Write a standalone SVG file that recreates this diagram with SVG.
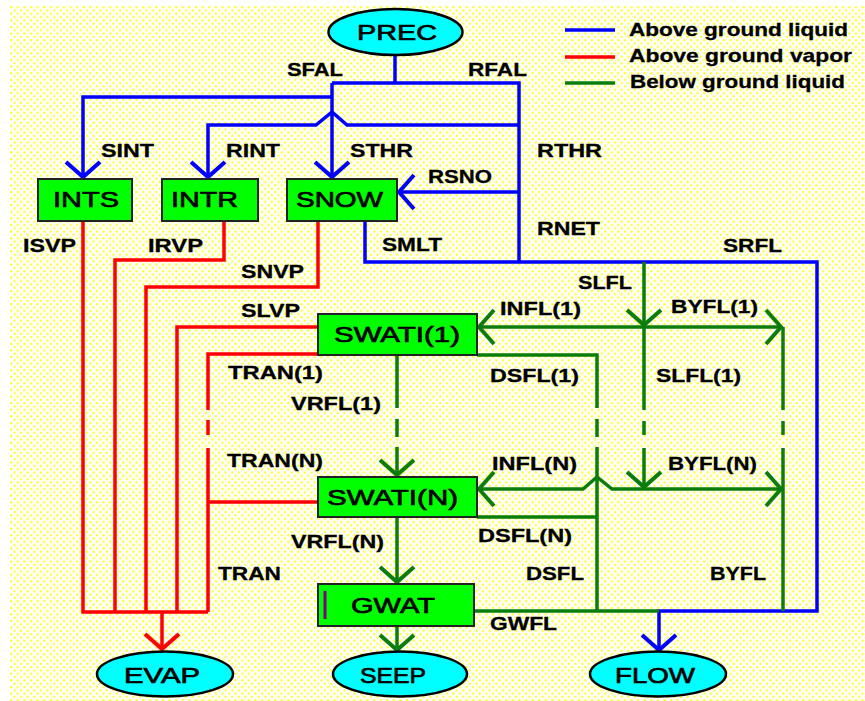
<svg xmlns="http://www.w3.org/2000/svg" width="865" height="701" viewBox="0 0 865 701">
<defs>
<pattern id="dots" patternUnits="userSpaceOnUse" width="6.6" height="6.6" x="10" y="6">
<circle cx="1.2" cy="1.2" r="1.2" fill="#ffff20"/>
<circle cx="4.5" cy="4.5" r="1.2" fill="#ffff20"/>
</pattern>
<marker id="ab" markerUnits="userSpaceOnUse" markerWidth="40" markerHeight="40" viewBox="-20 -20 40 40" refX="0" refY="0" orient="auto" overflow="visible"><path d="M-15,-17 L0,0 L-15,17" fill="none" stroke="#0000ff" stroke-width="4"/></marker>
<marker id="ar" markerUnits="userSpaceOnUse" markerWidth="40" markerHeight="40" viewBox="-20 -20 40 40" refX="0" refY="0" orient="auto" overflow="visible"><path d="M-15,-17 L0,0 L-15,17" fill="none" stroke="#ff0000" stroke-width="4"/></marker>
<marker id="ag" markerUnits="userSpaceOnUse" markerWidth="40" markerHeight="40" viewBox="-20 -20 40 40" refX="0" refY="0" orient="auto" overflow="visible"><path d="M-15,-17 L0,0 L-15,17" fill="none" stroke="#0a7d0a" stroke-width="4"/></marker>
</defs>
<style>
.b{fill:none;stroke:#0000ff;stroke-width:3.5}
.r{fill:none;stroke:#ff0000;stroke-width:3.5}
.g{fill:none;stroke:#0a7d0a;stroke-width:3.5}
.box{fill:#00ff00;stroke:#222;stroke-width:2}
.ell{fill:#00ffff;stroke:#000;stroke-width:2.5}
.lbl{font-family:"Liberation Sans",Arial,sans-serif;font-weight:bold;font-size:19px;fill:#000;stroke:#000;stroke-width:0.3}
.nl{font-family:"Liberation Sans",Arial,sans-serif;font-size:22px;fill:#000;stroke:#000;stroke-width:0.7}
</style>
<rect x="0" y="0" width="865" height="701" fill="#ffffff"/>
<rect x="10" y="6" width="855" height="695" fill="url(#dots)"/>

<g id="connectors">
<path class="b" d="M395,55 V83"/>
<path class="b" d="M332,83 H519 V262"/>
<path class="b" d="M332,83 V177" marker-end="url(#ab)"/>
<path class="b" d="M332,97 H83 V177" marker-end="url(#ab)"/>
<path class="b" d="M519,125 H347 L332,112 L316,125 H208 V177" marker-end="url(#ab)"/>
<path class="b" d="M519,192 H399" marker-end="url(#ab)"/>
<path class="b" d="M365,221 V262 H817 V611 H659 V650" marker-end="url(#ab)"/>
<path class="g" d="M644,262 V325" marker-end="url(#ag)"/>
<path class="g" d="M644,327 V410 M644,421 V435"/>
<path class="g" d="M644,448 V487" marker-end="url(#ag)"/>
<path class="g" d="M644,327 H479" marker-end="url(#ag)"/>
<path class="g" d="M644,327 H781" marker-end="url(#ag)"/>
<path class="g" d="M783,327 V410 M783,421 V435 M783,448 V611"/>
<path class="g" d="M477,355 H597 V408 M597,419 V437 M597,447 V611"/>
<path class="g" d="M644,489 H612 L597,477 L583,489 H479" marker-end="url(#ag)"/>
<path class="g" d="M644,489 H781" marker-end="url(#ag)"/>
<path class="g" d="M397,355 V408 M397,419 V437"/>
<path class="g" d="M397,447 V475" marker-end="url(#ag)"/>
<path class="g" d="M477,517 H597"/>
<path class="g" d="M397,517 V582" marker-end="url(#ag)"/>
<path class="g" d="M397,626 V650" marker-end="url(#ag)"/>
<path class="g" d="M474,611 H659"/>
<path class="r" d="M83,221 V612 H208"/>
<path class="r" d="M224,221 V260 H115 V612"/>
<path class="r" d="M318,221 V287 H146 V612"/>
<path class="r" d="M318,327 H177 V612"/>
<path class="r" d="M318,354 H208 V410 M208,420 V435 M208,448 V612"/>
<path class="r" d="M318,502 H208"/>
<path class="r" d="M162,612 V649" marker-end="url(#ar)"/>
<g class="lbl">
<text x="287" y="76" textLength="56" lengthAdjust="spacingAndGlyphs">SFAL</text>
<text x="468" y="76" textLength="59" lengthAdjust="spacingAndGlyphs">RFAL</text>
<text x="101" y="157" textLength="53" lengthAdjust="spacingAndGlyphs">SINT</text>
<text x="226" y="157" textLength="54" lengthAdjust="spacingAndGlyphs">RINT</text>
<text x="350" y="157" textLength="63" lengthAdjust="spacingAndGlyphs">STHR</text>
<text x="537" y="157" textLength="65" lengthAdjust="spacingAndGlyphs">RTHR</text>
<text x="428" y="183" textLength="64" lengthAdjust="spacingAndGlyphs">RSNO</text>
<text x="537" y="235" textLength="63" lengthAdjust="spacingAndGlyphs">RNET</text>
<text x="382" y="251" textLength="60" lengthAdjust="spacingAndGlyphs">SMLT</text>
<text x="723" y="252" textLength="59" lengthAdjust="spacingAndGlyphs">SRFL</text>
<text x="23" y="252" textLength="53" lengthAdjust="spacingAndGlyphs">ISVP</text>
<text x="148" y="252" textLength="55" lengthAdjust="spacingAndGlyphs">IRVP</text>
<text x="241" y="278" textLength="63" lengthAdjust="spacingAndGlyphs">SNVP</text>
<text x="241" y="317" textLength="59" lengthAdjust="spacingAndGlyphs">SLVP</text>
<text x="578" y="289" textLength="54" lengthAdjust="spacingAndGlyphs">SLFL</text>
<text x="500" y="315" textLength="81" lengthAdjust="spacingAndGlyphs">INFL(1)</text>
<text x="671" y="313" textLength="87" lengthAdjust="spacingAndGlyphs">BYFL(1)</text>
<text x="228" y="379" textLength="95" lengthAdjust="spacingAndGlyphs">TRAN(1)</text>
<text x="291" y="410" textLength="90" lengthAdjust="spacingAndGlyphs">VRFL(1)</text>
<text x="490" y="382" textLength="89" lengthAdjust="spacingAndGlyphs">DSFL(1)</text>
<text x="656" y="382" textLength="85" lengthAdjust="spacingAndGlyphs">SLFL(1)</text>
<text x="227" y="467" textLength="96" lengthAdjust="spacingAndGlyphs">TRAN(N)</text>
<text x="492" y="470" textLength="85" lengthAdjust="spacingAndGlyphs">INFL(N)</text>
<text x="668" y="470" textLength="89" lengthAdjust="spacingAndGlyphs">BYFL(N)</text>
<text x="291" y="548" textLength="93" lengthAdjust="spacingAndGlyphs">VRFL(N)</text>
<text x="478" y="542" textLength="94" lengthAdjust="spacingAndGlyphs">DSFL(N)</text>
<text x="218" y="580" textLength="63" lengthAdjust="spacingAndGlyphs">TRAN</text>
<text x="526" y="580" textLength="58" lengthAdjust="spacingAndGlyphs">DSFL</text>
<text x="710" y="580" textLength="56" lengthAdjust="spacingAndGlyphs">BYFL</text>
<text x="490" y="630" textLength="67" lengthAdjust="spacingAndGlyphs">GWFL</text>
</g>
</g>

<g id="legend">
<line x1="565" y1="30" x2="615" y2="30" stroke="#0000ff" stroke-width="3.5"/>
<line x1="565" y1="57" x2="615" y2="57" stroke="#ff0000" stroke-width="3.5"/>
<line x1="565" y1="83" x2="615" y2="83" stroke="#0a7d0a" stroke-width="3.5"/>
<g class="lbl">
<text x="629" y="36" textLength="219" lengthAdjust="spacingAndGlyphs">Above ground liquid</text>
<text x="629" y="62" textLength="223" lengthAdjust="spacingAndGlyphs">Above ground vapor</text>
<text x="630" y="88" textLength="215" lengthAdjust="spacingAndGlyphs">Below ground liquid</text>
</g>
</g>

<g id="PREC"><ellipse class="ell" cx="395.5" cy="32" rx="67" ry="23"/><text class="nl" x="357" y="40" textLength="80" lengthAdjust="spacingAndGlyphs">PREC</text></g>
<g id="INTS"><rect class="box" x="38" y="179" width="94" height="42"/><text class="nl" x="53" y="207" textLength="66" lengthAdjust="spacingAndGlyphs">INTS</text></g>
<g id="INTR"><rect class="box" x="162" y="179" width="96" height="42"/><text class="nl" x="171" y="207" textLength="67" lengthAdjust="spacingAndGlyphs">INTR</text></g>
<g id="SNOW"><rect class="box" x="287" y="179" width="110" height="42"/><text class="nl" x="296" y="207" textLength="87" lengthAdjust="spacingAndGlyphs">SNOW</text></g>
<g id="SWATI1"><rect class="box" x="318" y="314" width="159" height="41"/><text class="nl" x="334" y="342" textLength="126" lengthAdjust="spacingAndGlyphs">SWATI(1)</text></g>
<g id="SWATIN"><rect class="box" x="318" y="477" width="159" height="40"/><text class="nl" x="327" y="505" textLength="131" lengthAdjust="spacingAndGlyphs">SWATI(N)</text></g>
<g id="GWAT"><rect class="box" x="318" y="584" width="156" height="42"/><line x1="325" y1="591" x2="325" y2="619" stroke="#800080" stroke-width="3"/><text class="nl" x="351" y="613" textLength="84" lengthAdjust="spacingAndGlyphs">GWAT</text></g>
<g id="EVAP"><ellipse class="ell" cx="165" cy="674" rx="68" ry="22.5"/><text class="nl" x="124" y="683" textLength="76" lengthAdjust="spacingAndGlyphs">EVAP</text></g>
<g id="SEEP"><ellipse class="ell" cx="400" cy="674" rx="67" ry="22.5"/><text class="nl" x="360" y="683" textLength="66" lengthAdjust="spacingAndGlyphs">SEEP</text></g>
<g id="FLOW"><ellipse class="ell" cx="658" cy="674" rx="68" ry="22.5"/><text class="nl" x="615" y="683" textLength="80" lengthAdjust="spacingAndGlyphs">FLOW</text></g>
</svg>
